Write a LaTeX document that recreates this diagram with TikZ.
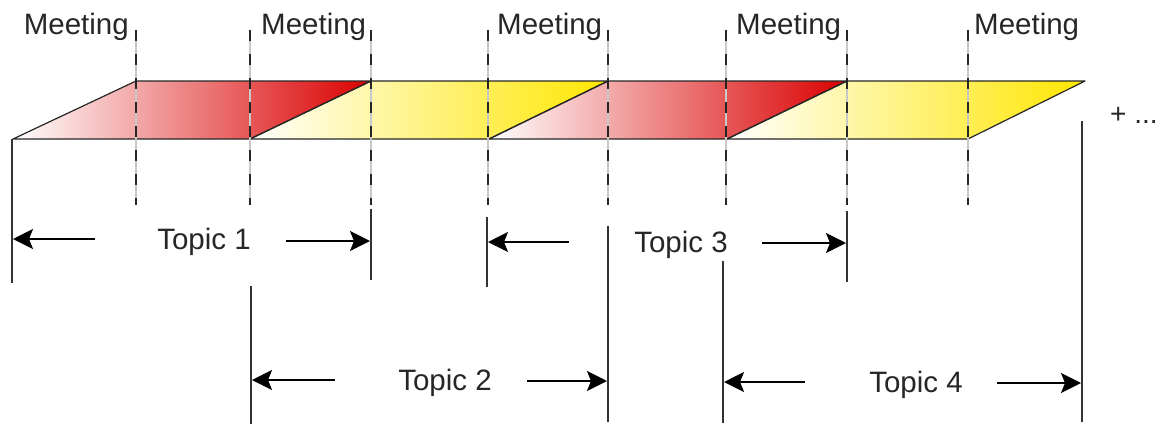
\documentclass[tikz,border=0pt]{standalone}
\usepackage{fontspec}
\setmainfont{Liberation Sans}
\usetikzlibrary{arrows.meta}
\definecolor{dred}{RGB}{218,0,0}
\definecolor{dyel}{RGB}{255,230,0}
\definecolor{lgray}{RGB}{200,200,200}
\tikzset{tophead/.tip={Stealth[length=20pt,width=20pt,inset=4pt]}}
\begin{document}
\begin{tikzpicture}[x=1pt,y=-1pt,
  lbl/.style={font=\fontsize{29.5}{31}\selectfont, inner sep=0pt, text=black!85},
  plus/.style={font=\fontsize{28}{30}\selectfont, inner sep=0pt, text=black!85},
  barline/.style={draw=black!85, line width=1.2pt, line join=round},
  redbar/.style={left color=white, right color=dred},
  yelbar/.style={left color=white, right color=dyel},
  meetunder/.style={draw=lgray, line width=1.5pt},
  meetline/.style={draw=black!85, line width=1.5pt, dash pattern=on 11pt off 13pt},
  vline/.style={draw=black!80, line width=1.8pt},
  arr/.style={draw=black, line width=1.8pt, -tophead}
]
\useasboundingbox (0,0) rectangle (1164,424);

% bar parallelograms
\shade[redbar] (13,139) -- (136,81) -- (371,81) -- (250,139) -- cycle;
\shade[yelbar] (250,139) -- (371,81) -- (608,81) -- (489,139) -- cycle;
\shade[redbar] (489,139) -- (608,81) -- (847,81) -- (727,139) -- cycle;
\shade[yelbar] (727,139) -- (847,81) -- (1085,81) -- (968,139) -- cycle;
\draw[barline] (13,139) -- (136,81) -- (371,81) -- (250,139) -- cycle;
\draw[barline] (250,139) -- (371,81) -- (608,81) -- (489,139) -- cycle;
\draw[barline] (489,139) -- (608,81) -- (847,81) -- (727,139) -- cycle;
\draw[barline] (727,139) -- (847,81) -- (1085,81) -- (968,139) -- cycle;

% meeting boundaries (dashed)
\foreach \x [count=\i] in {136,250,371,488,608,726,847,968} {
  \coordinate (m\i t) at (\x,30);
  \coordinate (m\i b) at (\x,205);
  \draw[meetunder] (m\i t) -- (m\i b);
  \draw[meetline] (m\i t) -- (m\i b);
}

% meeting labels
\node[lbl, anchor=base east] (mt1) at (129,34) {Meeting};
\node[lbl, anchor=base west] (mt2) at (261,34) {Meeting};
\node[lbl, anchor=base west] (mt3) at (497,34) {Meeting};
\node[lbl, anchor=base west] (mt4) at (736,34) {Meeting};
\node[lbl, anchor=base west] (mt5) at (974,34) {Meeting};
\node[plus, anchor=base west] (more) at (1110,123) {+ ...};

% solid topic boundaries
\coordinate (L0t) at (12,139);   \coordinate (L0b) at (12,283);
\coordinate (L1t) at (371,209);  \coordinate (L1b) at (371,280);
\coordinate (L2t) at (251,286);  \coordinate (L2b) at (251,424);
\coordinate (L3t) at (608,226);  \coordinate (L3b) at (608,422);
\coordinate (L4t) at (487,217);  \coordinate (L4b) at (487,287);
\coordinate (L5t) at (847,211);  \coordinate (L5b) at (847,282);
\coordinate (L6t) at (723,261);  \coordinate (L6b) at (723,423);
\coordinate (L7t) at (1082,121); \coordinate (L7b) at (1082,422);
\foreach \i in {0,...,7} { \draw[vline] (L\i t) -- (L\i b); }

% topic labels
\node[lbl, anchor=base] (t1) at (204,249) {Topic 1};
\node[lbl, anchor=base] (t2) at (445,390) {Topic 2};
\node[lbl, anchor=base] (t3) at (681,252) {Topic 3};
\node[lbl, anchor=base] (t4) at (916,392) {Topic 4};

% arrows
\coordinate (a1ls) at (95,239);   \coordinate (a1le) at (13,239);
\coordinate (a1rs) at (286,241);  \coordinate (a1re) at (370,241);
\coordinate (a2ls) at (335,380);  \coordinate (a2le) at (252,380);
\coordinate (a2rs) at (527,381);  \coordinate (a2re) at (607,381);
\coordinate (a3ls) at (569,242);  \coordinate (a3le) at (488,242);
\coordinate (a3rs) at (762,243);  \coordinate (a3re) at (846,243);
\coordinate (a4ls) at (805,382);  \coordinate (a4le) at (724,382);
\coordinate (a4rs) at (997,383);  \coordinate (a4re) at (1081,383);
\foreach \i in {1,...,4} {
  \draw[arr] (a\i ls) -- (a\i le);
  \draw[arr] (a\i rs) -- (a\i re);
}
\end{tikzpicture}
\end{document}
